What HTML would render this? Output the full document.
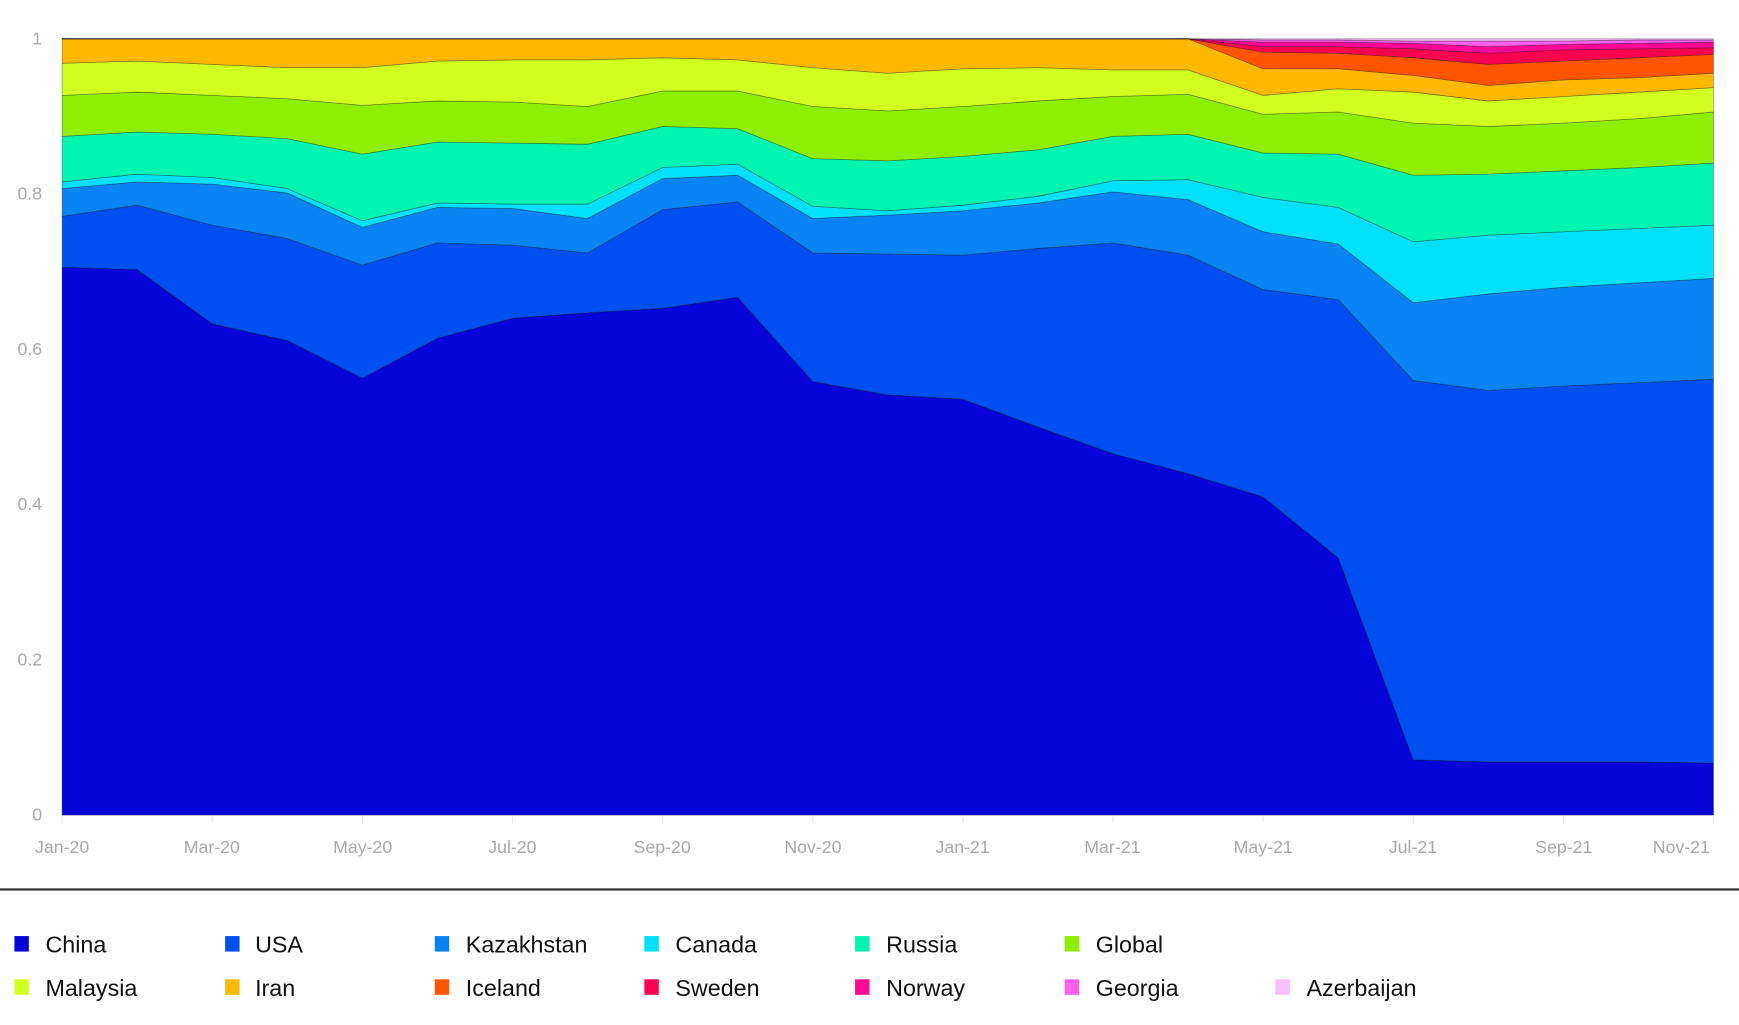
<!DOCTYPE html>
<html><head><meta charset="utf-8">
<style>
html,body{margin:0;padding:0;background:#fff;}
body{width:1739px;height:1025px;overflow:hidden;}
svg{display:block;}
text{font-family:"Liberation Sans",sans-serif;}
</style></head>
<body>
<svg id="c" width="1739" height="1025" viewBox="0 0 1568 924.2" xmlns="http://www.w3.org/2000/svg">
<g id="layers"></g>
<g fill="#a8a8a8" font-size="16" text-anchor="end">
<text x="38" y="40">1</text>
<text x="38" y="180">0.8</text>
<text x="38" y="320">0.6</text>
<text x="38" y="460">0.4</text>
<text x="38" y="600">0.2</text>
<text x="38" y="740">0</text>
</g>
<g fill="#a8a8a8" font-size="16" text-anchor="middle">
<text x="56" y="769">Jan-20</text>
<text x="191" y="769">Mar-20</text>
<text x="327" y="769">May-20</text>
<text x="462" y="769">Jul-20</text>
<text x="597" y="769">Sep-20</text>
<text x="733" y="769">Nov-20</text>
<text x="868" y="769">Jan-21</text>
<text x="1003" y="769">Mar-21</text>
<text x="1139" y="769">May-21</text>
<text x="1274" y="769">Jul-21</text>
<text x="1410" y="769">Sep-21</text>
<text x="1516" y="769">Nov-21</text>
</g>
<g id="ticks" stroke="#e6e6e6" stroke-width="1"></g>
<rect x="0" y="801" width="1568" height="2" fill="#333"/>
<g font-size="21" fill="#111">
<rect x="13" y="844" width="13" height="14" fill="#0505d8"/><text x="41" y="859">China</text>
<rect x="203" y="844" width="13" height="14" fill="#0050f0"/><text x="230" y="859">USA</text>
<rect x="392" y="844" width="13" height="14" fill="#0a84f5"/><text x="420" y="859">Kazakhstan</text>
<rect x="581" y="844" width="13" height="14" fill="#00e0f8"/><text x="609" y="859">Canada</text>
<rect x="771" y="844" width="13" height="14" fill="#00f5b0"/><text x="799" y="859">Russia</text>
<rect x="960" y="844" width="13" height="14" fill="#8ef000"/><text x="988" y="859">Global</text>
<rect x="13" y="883" width="13" height="14" fill="#d0ff20"/><text x="41" y="898">Malaysia</text>
<rect x="203" y="883" width="13" height="14" fill="#ffb800"/><text x="230" y="898">Iran</text>
<rect x="392" y="883" width="13" height="14" fill="#ff5500"/><text x="420" y="898">Iceland</text>
<rect x="581" y="883" width="13" height="14" fill="#ff0050"/><text x="609" y="898">Sweden</text>
<rect x="771" y="883" width="13" height="14" fill="#ff0898"/><text x="799" y="898">Norway</text>
<rect x="960" y="883" width="13" height="14" fill="#ff60f0"/><text x="988" y="898">Georgia</text>
<rect x="1150" y="883" width="13" height="14" fill="#f8c0f8"/><text x="1178" y="898">Azerbaijan</text>
</g>
</svg>
<script>
var X=[];for(var i=0;i<23;i++)X.push(56+i*(1489/22));
var T=[
[241,243,292,307,341,305,287,282,278,268,344,356,360,385,409,427,448,503,685,687,687,687,688],
[195,185,203,215,239,219,221,228,189,182,228,229,230,224,219,230,261,270,343,352,348,345,342],
[170,164,166,174,205,187,188,197,161,158,197,194,190,183,173,180,209,220,273,265,259,255,251],
[164,157,160,170,199,183,184,184,151,148,186,190,185,177,163,162,178,187,218,212,209,206,203],
[123,119,121,125,139,128,129,130,114,116,143,145,141,135,123,121,138,139,158,157,154,151,147],
[86,83,86,89,95,91,92,96,82,82,96,100,96,91,87,85,103,101,111,114,111,107,101],
[57,55,58,61,61,55,54,54,52,54,61,66,62,61,63,63,86,80,83,91,87,83,79],
[35,35,35,35,35,35,35,35,35,35,35,35,35,35,35,35,62,62,68,77,72,70,66],
[35,35,35,35,35,35,35,35,35,35,35,35,35,35,35,35,47,48,52,58,55,52,49],
[35,35,35,35,35,35,35,35,35,35,35,35,35,35,35,35,42,42,44,48,45,44,43],
[35,35,35,35,35,35,35,35,35,35,35,35,35,35,35,35,38,38,39,42,40,39,38],
[35,35,35,35,35,35,35,35,35,35,35,35,35,35,35,35,36,36,37,37,37,36,36],
[35,35,35,35,35,35,35,35,35,35,35,35,35,35,35,35,35,35,35,35,35,35,35]];
var C=["#0505d8","#0050f0","#0a84f5","#00e0f8","#00f5b0","#8ef000","#d0ff20","#ffb800","#ff5500","#ff0050","#ff0898","#ff60f0","#f8c0f8"];
var g=document.getElementById('layers'),s='';
for(var k=0;k<13;k++){var p=[];for(var i=0;i<23;i++)p.push(X[i].toFixed(1)+','+T[k][i]);
for(var i=22;i>=0;i--)p.push(X[i].toFixed(1)+','+(k==0?735:T[k-1][i]));
s+='<polygon points="'+p.join(' ')+'" fill="'+C[k]+'" stroke="rgba(0,0,0,0.35)" stroke-width="0.7" stroke-linejoin="round"/>';}
g.innerHTML=s;
var t='';for(var i=0;i<23;i+=2)t+='<line x1="'+X[i]+'" y1="736" x2="'+X[i]+'" y2="742"/>';
document.getElementById('ticks').innerHTML=t;
</script>
</body></html>
